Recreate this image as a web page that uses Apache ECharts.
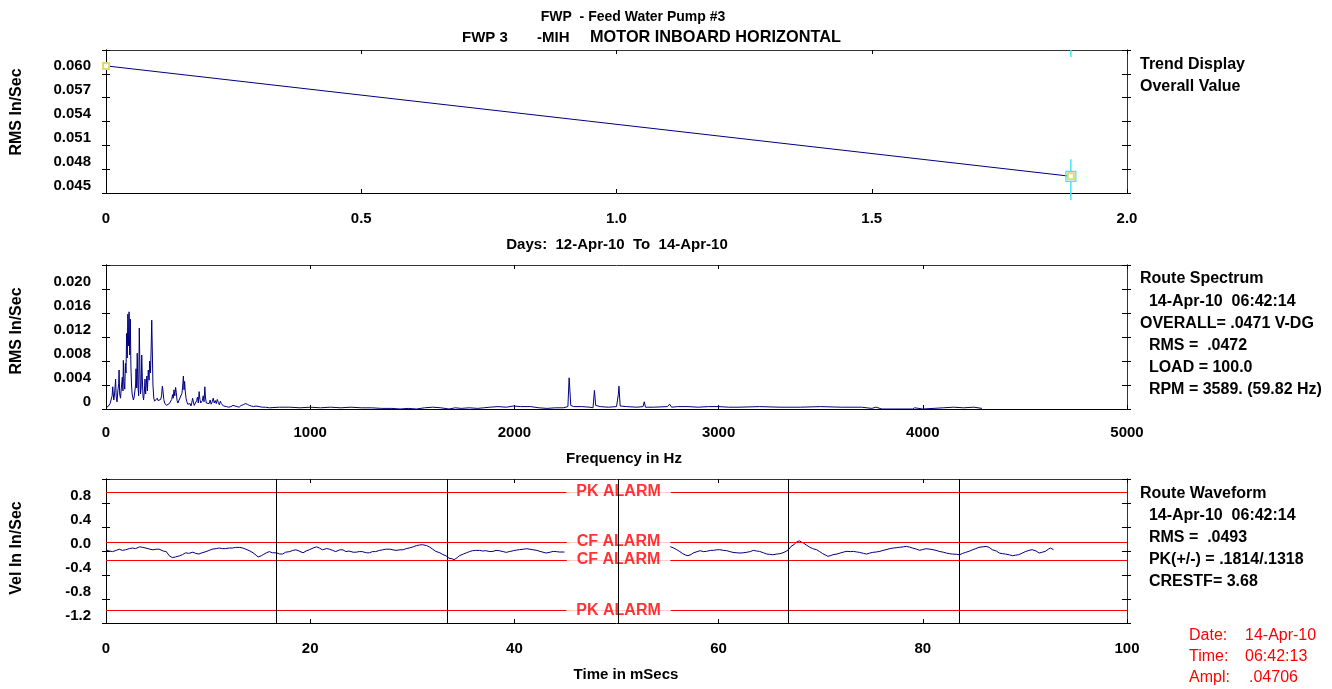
<!DOCTYPE html>
<html><head><meta charset="utf-8">
<script src="https://cdn.jsdelivr.net/npm/echarts@6/dist/echarts.min.js"></script>
<style>html,body{margin:0;padding:0;background:#fff}#c{width:1332px;height:689px}</style>
</head><body><div id="c"></div><script>
// ---------- DATA ----------
const trendDays = [0, 1.89];
const trendValues = [0.0610, 0.0471];
const trendXTicks = ['0', '0.5', '1.0', '1.5', '2.0'];
const trendYTicks = ['0.045', '0.048', '0.051', '0.054', '0.057', '0.060', ''];

const specFreq = [0,5,10,15,20,25,30,33,38,42,47,50,54,58,62,64,67,71,75,80,83,85,88,92,95,98,101,104,107,110,113,116,119,122,125,128,131,134,138,142,145,147,150,153,156,160,163,166,169,172,175,178,181,184,188,191,194,197,200,203,207,211,214,218,221,224,227,230,234,238,242,247,251,255,260,264,268,272,276,279,283,287,291,296,300,305,310,314,318,322,326,329,333,337,341,344,348,352,356,360,364,368,372,376,379,382,385,388,392,396,400,404,408,412,416,420,424,428,432,436,440,444,448,452,456,460,464,468,472,476,480,484,487,491,495,500,505,510,515,520,525,530,535,540,545,550,555,560,565,570,575,580,590,600,612,622,632,642,652,662,672,682,692,702,712,722,735,750,765,780,800,850,900,950,1000,1050,1100,1150,1200,1250,1300,1350,1400,1440,1480,1520,1560,1600,1640,1680,1710,1740,1780,1820,1850,1880,1920,1960,1995,2030,2080,2120,2160,2200,2240,2262,2268,2272,2276,2290,2330,2370,2385,2392,2398,2420,2460,2500,2509,2512,2518,2550,2600,2630,2636,2642,2680,2750,2760,2770,2800,2850,2900,2950,3000,3050,3100,3200,3300,3400,3500,3600,3700,3750,3770,3800,3950,3960,4000,4100,4150,4200,4250,4290];
const specAmp = [.0003,.0006,.0004,.0007,.0009,.0012,.0022,.0037,.0015,.0025,.0050,.0020,.0012,.0030,.0042,.0065,.0025,.0018,.0035,.0053,.0030,.0081,.0045,.0033,.0076,.0060,.0126,.0085,.0158,.0105,.0162,.0090,.0150,.0070,.0040,.0025,.0026,.0015,.0020,.0018,.0040,.0067,.0035,.0093,.0040,.0022,.0135,.0070,.0025,.0035,.0090,.0050,.0022,.0015,.0030,.0050,.0025,.0040,.0055,.0030,.0065,.0048,.0080,.0060,.0100,.0148,.0095,.0040,.0018,.0013,.0016,.0012,.0018,.0014,.0013,.0011,.0016,.0022,.0038,.0030,.0016,.0010,.0008,.0006,.0007,.0005,.0009,.0012,.0010,.0016,.0024,.0018,.0032,.0022,.0036,.0028,.0014,.0010,.0007,.0012,.0020,.0018,.0026,.0040,.0055,.0032,.0046,.0030,.0018,.0012,.0008,.0010,.0006,.0009,.0005,.0010,.0018,.0012,.0006,.0004,.0008,.0014,.0020,.0010,.0029,.0016,.0010,.0008,.0014,.0022,.0012,.0037,.0020,.0010,.0007,.0011,.0009,.0015,.0008,.0012,.0018,.0010,.0014,.0009,.0016,.0011,.0007,.0013,.0009,.0006,.0005,.0006,.0004,.0003,.0004,.0006,.0005,.0004,.0003,.0006,.0007,.0009,.0008,.0006,.0005,.0004,.0005,.0004,.0003,.0003,.0002,.0003,.0003,.0002,.0003,.0002,.0003,.0002,.0003,.0002,.0002,.0001,.0001,.0000,.0001,.0000,.0002,.0003,.0002,.0000,.0002,.0001,.0002,.0001,.0002,.0003,.0004,.0003,.0005,.0004,.0004,.0002,.0001,.0002,.0002,.0004,.0052,.0030,.0006,.0004,.0004,.0003,.0002,.0031,.0006,.0004,.0003,.0004,.0024,.0038,.0005,.0004,.0003,.0004,.0012,.0003,.0003,.0004,.0008,.0003,.0004,.0004,.0003,.0004,.0004,.0003,.0003,.0004,.0003,.0003,.0004,.0003,.0003,.0001,.0003,.0000,.0000,.0002,.0000,.0002,.0003,.0002,.0003,.0001];
const specXTicks = ['0', '1000', '2000', '3000', '4000', '5000'];
const specYTicks = ['0', '0.004', '0.008', '0.012', '0.016', '0.020', ''];

const waveTime = [0.0,0.3,0.65,1.0,1.3,1.6,1.9,2.3,2.6,2.9,3.3,3.6,3.9,4.3,4.6,4.9,5.2,5.6,5.9,6.2,6.5,6.8,7.2,7.5,7.8,8.1,8.5,8.8,9.1,9.4,9.8,10.1,10.4,10.8,11.1,11.4,11.7,12.1,12.4,12.7,13.1,13.4,13.7,14.1,14.4,14.7,14.9,15.2,15.4,15.7,16.0,16.3,16.7,17.0,17.3,17.6,18.0,18.3,18.6,18.9,19.3,19.6,19.9,20.3,20.6,20.9,21.2,21.6,21.9,22.2,22.5,22.9,23.2,23.5,23.8,24.2,24.5,24.8,25.1,25.5,25.8,26.1,26.4,26.8,27.1,27.4,27.8,28.1,28.4,28.8,29.1,29.4,29.7,30.1,30.4,30.7,31.0,31.4,31.7,32.0,32.3,32.7,33.0,33.3,33.6,33.9,34.1,34.4,34.6,35.0,35.3,35.6,35.9,36.2,36.6,36.9,37.2,37.6,37.9,38.2,38.5,38.9,39.2,39.5,39.9,40.2,40.5,40.9,41.2,41.5,41.8,42.2,42.5,42.8,43.1,43.5,43.8,44.1,44.4,44.9,50,55.2,55.6,55.9,56.2,56.5,56.8,57.0,57.3,57.5,57.9,58.2,58.5,58.8,59.2,59.5,59.8,60.1,60.5,60.8,61.1,61.4,61.8,62.1,62.4,62.7,63.1,63.4,63.7,64.0,64.4,64.7,65.0,65.3,65.7,66.0,66.3,66.6,66.9,67.1,67.4,67.6,67.9,68.1,68.3,68.6,68.9,69.2,69.6,69.9,70.2,70.5,70.7,71.0,71.2,71.6,71.9,72.2,72.5,72.9,73.2,73.5,73.8,74.2,74.5,74.8,75.1,75.5,75.8,76.1,76.4,76.8,77.1,77.4,77.7,78.1,78.4,78.7,79.0,79.4,79.7,80.0,80.3,80.7,81.0,81.3,81.6,82.0,82.3,82.6,82.9,83.3,83.6,83.9,84.2,84.6,84.9,85.2,85.5,85.9,86.2,86.5,86.8,87.2,87.5,87.8,88.1,88.5,88.8,89.1,89.4,89.8,90.1,90.4,90.7,91.1,91.4,91.7,92.0,92.3,92.5,92.8];
const waveVel = [0.02,0.00,-0.01,0.01,0.03,0.01,0.02,0.04,0.05,0.04,0.07,0.06,0.05,0.03,0.02,0.03,0.03,0.00,-0.01,-0.08,-0.11,-0.10,-0.08,-0.06,-0.03,-0.04,-0.02,-0.04,-0.05,-0.03,-0.01,0.01,0.03,0.04,0.05,0.04,0.04,0.05,0.05,0.06,0.06,0.05,0.03,0.00,-0.03,-0.07,-0.10,-0.08,-0.06,-0.03,-0.01,-0.03,-0.03,-0.05,-0.05,-0.02,-0.01,0.01,0.02,0.00,-0.03,0.00,0.02,0.05,0.07,0.05,0.02,0.04,0.03,0.01,-0.01,0.02,0.02,-0.01,0.00,-0.02,-0.02,-0.01,-0.01,-0.03,-0.03,-0.01,-0.01,0.01,0.02,0.03,0.03,0.02,0.01,0.02,0.02,0.04,0.05,0.07,0.09,0.10,0.105,0.09,0.066,0.03,-0.006,-0.03,-0.06,-0.08,-0.12,-0.13,-0.145,-0.11,-0.08,-0.05,-0.03,-0.01,0.005,0.01,0.01,0.00,0.005,-0.01,-0.006,0.01,0.005,-0.01,-0.023,-0.01,0.005,0.015,0.022,0.03,0.038,0.03,0.022,0.01,-0.006,-0.02,-0.034,-0.02,-0.006,-0.01,-0.017,-0.017,null,0.077,0.05,0.022,-0.01,-0.045,-0.07,-0.078,-0.06,-0.034,-0.01,0.005,-0.01,-0.006,0.01,0.011,0.02,0.022,0.01,0.005,-0.01,-0.023,-0.03,-0.034,-0.03,-0.023,-0.01,0.011,0.0,-0.006,-0.03,-0.051,-0.055,-0.062,-0.05,-0.045,-0.03,-0.006,0.03,0.077,0.11,0.144,0.17,0.15,0.133,0.1,0.066,0.04,0.022,-0.01,-0.045,-0.07,-0.089,-0.075,-0.062,-0.05,-0.034,-0.02,-0.006,-0.01,-0.006,-0.015,-0.023,-0.04,-0.051,-0.035,-0.023,-0.015,-0.006,0.01,0.022,0.04,0.049,0.055,0.061,0.07,0.077,0.065,0.049,0.03,0.011,0.025,0.038,0.03,0.022,0.01,-0.006,-0.02,-0.034,-0.045,-0.051,-0.055,-0.062,-0.04,-0.023,0.0,0.022,0.04,0.061,0.07,0.077,0.06,0.022,0.0,-0.034,-0.045,-0.051,-0.065,-0.078,-0.07,-0.062,-0.03,-0.006,0.01,0.022,0.0,-0.034,-0.02,-0.006,0.03,0.049,0.022];
const waveXTicks = ['0', '20', '40', '60', '80', '100'];
const waveYTicks = ['-1.2', '-0.8', '-0.4', '0.0', '0.4', '0.8', ''];
const alarmNames = ['PK ALARM', 'CF ALARM', 'CF ALARM', 'PK ALARM'];
const alarmLevels = [0.985, 0.15, -0.15, -0.985];
const alarmLabelTime = 50.2;
const cycleMarks = [16.72, 33.43, 50.15, 66.87, 83.59];

const titleLine1 = 'FWP  - Feed Water Pump #3';
const titleLine2Parts = ['FWP 3', '-MIH', 'MOTOR INBOARD HORIZONTAL'];
const trendInfo = ['Trend Display', 'Overall Value'];
const specInfo = ['Route Spectrum', '  14-Apr-10  06:42:14', 'OVERALL= .0471 V-DG', '  RMS =  .0472', '  LOAD = 100.0', '  RPM = 3589. (59.82 Hz)'];
const waveInfo = ['Route Waveform', '  14-Apr-10  06:42:14', '  RMS =  .0493', '  PK(+/-) = .1814/.1318', '  CRESTF= 3.68'];
const cursorLabels = ['Date:', 'Time:', 'Ampl:'];
const cursorValues = ['14-Apr-10', '06:42:13', '.04706'];

// ---------- LAYOUT / STYLE ----------
const FF = "'Liberation Sans', Arial, sans-serif";
const NAVY = '#000080';
const grids = [
  {left: 106, top: 50, width: 1021, height: 143},
  {left: 106, top: 265, width: 1021, height: 144},
  {left: 106, top: 479, width: 1021, height: 144}
];
const labelFont = {fontFamily: FF, fontWeight: 'bold', fontSize: 15, color: '#000'};

function xAxes(gi, min, max, interval, labels, margin) {
  return [
    {gridIndex: gi, type: 'value', position: 'bottom', min, max, interval,
     axisLine: {show: true, onZero: false, lineStyle: {color: '#000', width: 1}},
     axisTick: {show: true, inside: true, length: 4, lineStyle: {color: '#000'}},
     axisLabel: Object.assign({show: true, margin: margin,
       formatter: v => labels[Math.round((v - min) / interval)] ?? ''}, labelFont),
     splitLine: {show: false}},
    {gridIndex: gi, type: 'value', position: 'top', min, max, interval,
     axisLine: {show: true, onZero: false, lineStyle: {color: '#333', width: 1}},
     axisTick: {show: true, inside: true, length: 4, lineStyle: {color: '#000'}},
     axisLabel: {show: false}, splitLine: {show: false}}
  ];
}
function yAxes(gi, min, max, interval, labels) {
  const base = {gridIndex: gi, type: 'value', min, max, interval, splitLine: {show: false}};
  return [
    Object.assign({}, base, {position: 'left',
      axisLine: {show: true, onZero: false, lineStyle: {color: '#000'}},
      axisTick: {show: true, inside: false, length: 4, lineStyle: {color: '#000'}},
      axisLabel: Object.assign({show: true, margin: 15, verticalAlign: 'bottom', lineHeight: 15,
        formatter: v => labels[Math.round((v - min) / interval)] ?? ''}, labelFont)}),
    Object.assign({}, base, {position: 'left',
      axisLine: {show: true, onZero: false, lineStyle: {color: '#000'}},
      axisTick: {show: true, inside: true, length: 4, lineStyle: {color: '#000'}},
      axisLabel: {show: false}}),
    Object.assign({}, base, {position: 'right',
      axisLine: {show: true, onZero: false, lineStyle: {color: '#333'}},
      axisTick: {show: true, inside: true, length: 5, lineStyle: {color: '#000'}},
      axisLabel: {show: false}}),
    Object.assign({}, base, {position: 'right',
      axisLine: {show: true, onZero: false, lineStyle: {color: '#333'}},
      axisTick: {show: true, inside: false, length: 4, lineStyle: {color: '#000'}},
      axisLabel: {show: false}})
  ];
}

function txt(text, x, y, o) {
  o = o || {};
  const align = o.align || 'left';
  return {type: 'text', x, y, rotation: o.rot || 0, z: 100,
    style: {text, fill: o.color || '#000',
      font: (o.weight || 'bold') + ' ' + (o.size || 16) + 'px ' + FF,
      textAlign: align, align: align, textVerticalAlign: 'middle', verticalAlign: 'middle'}};
}

const graphics = [];
graphics.push(txt(titleLine1, 633, 17, {align: 'center', size: 14}));
graphics.push(txt(titleLine2Parts[0], 462, 38, {size: 15}));
graphics.push(txt(titleLine2Parts[1], 537, 38, {size: 15}));
graphics.push(txt(titleLine2Parts[2], 590, 38, {size: 16.3}));
graphics.push(txt('RMS In/Sec', 17, 112, {align: 'center', rot: Math.PI / 2}));
graphics.push(txt('RMS In/Sec', 17, 331, {align: 'center', rot: Math.PI / 2}));
graphics.push(txt('Vel In In/Sec', 17, 548, {align: 'center', rot: Math.PI / 2}));
graphics.push(txt('Days:  12-Apr-10  To  14-Apr-10', 617, 245, {align: 'center', size: 15}));
graphics.push(txt('Frequency in Hz', 624, 459, {align: 'center', size: 15}));
graphics.push(txt('Time in mSecs', 626, 675, {align: 'center', size: 15}));
trendInfo.forEach((t, i) => graphics.push(txt(t, 1140, 65 + i * 22)));
specInfo.forEach((t, i) => graphics.push(txt(t, 1140, 279 + i * 22.2)));
waveInfo.forEach((t, i) => graphics.push(txt(t, 1140, 494 + i * 21.8)));
cursorLabels.forEach((t, i) => graphics.push(txt(t, 1189, 635.5 + i * 21, {color: '#ff0000', weight: 'normal'})));
cursorValues.forEach((t, i) => graphics.push(txt(t, i === 2 ? 1249 : 1245, 635.5 + i * 21, {color: '#ff0000', weight: 'normal'})));

const trendData = trendDays.map((d, i) => [d, trendValues[i]]);
const specData = specFreq.map((f, i) => [f, specAmp[i]]);
const waveData = waveTime.map((t, i) => [t, waveVel[i]]);
const lastIdx = trendDays.length - 1;

const option = {
  backgroundColor: '#fff',
  animation: false,
  grid: grids.map(g => Object.assign({show: false, containLabel: false, outerBoundsMode: 'none'}, g)),
  xAxis: [].concat(
    xAxes(0, 0, 2, 0.5, trendXTicks, 18),
    xAxes(1, 0, 5000, 1000, specXTicks, 16),
    xAxes(2, 0, 100, 20, waveXTicks, 18)),
  yAxis: [].concat(
    yAxes(0, 0.045, 0.063, 0.003, trendYTicks),
    yAxes(1, 0, 0.024, 0.004, specYTicks),
    yAxes(2, -1.2, 1.2, 0.4, waveYTicks)),
  graphic: {elements: graphics},
  series: [
    {type: 'line', name: 'trend', xAxisIndex: 0, yAxisIndex: 0, data: trendData,
     symbol: 'emptyRect', symbolSize: 6, showSymbol: true,
     itemStyle: {color: '#e0d870', borderWidth: 1},
     lineStyle: {color: NAVY, width: 1}, z: 3},
    {type: 'custom', name: 'cursor', xAxisIndex: 0, yAxisIndex: 0, clip: false, z: 4,
     data: [[trendDays[lastIdx], trendValues[lastIdx]]],
     renderItem: function (params, api) {
       const p = api.coord([api.value(0), api.value(1)]);
       const cs = params.coordSys;
       const st = {stroke: '#40e8f0', lineWidth: 1.5, fill: null};
       return {type: 'group', children: [
         {type: 'line', shape: {x1: p[0], y1: cs.y, x2: p[0], y2: cs.y + 7}, style: st},
         {type: 'line', shape: {x1: p[0], y1: p[1] - 17, x2: p[0], y2: p[1] - 5}, style: st},
         {type: 'rect', shape: {x: p[0] - 5, y: p[1] - 5, width: 10, height: 10}, style: {stroke: '#40e8f0', lineWidth: 1.2, fill: null}},
         {type: 'line', shape: {x1: p[0], y1: p[1] + 5, x2: p[0], y2: cs.y + cs.height + 7}, style: st}
       ]};
     }},
    {type: 'line', name: 'spectrum', xAxisIndex: 2, yAxisIndex: 4, data: specData,
     showSymbol: false, symbol: 'none', lineStyle: {color: NAVY, width: 1}},
    {type: 'line', name: 'waveform', xAxisIndex: 4, yAxisIndex: 8, data: waveData,
     showSymbol: false, symbol: 'none', connectNulls: false, z: 2,
     lineStyle: {color: NAVY, width: 1},
     markLine: {silent: true, symbol: ['none', 'none'], z: 5, animation: false,
       label: {show: false},
       lineStyle: {color: '#ff0000', type: 'solid', width: 1},
       data: alarmLevels.map(v => ({yAxis: v}))}},
    {type: 'scatter', name: 'alarmLabels', xAxisIndex: 4, yAxisIndex: 8, z: 6,
     symbol: 'circle', symbolSize: 1, itemStyle: {color: 'rgba(0,0,0,0)'},
     data: alarmLevels.map(v => [alarmLabelTime, v]),
     label: {show: true, position: 'inside',
       formatter: p => alarmNames[p.dataIndex],
       color: '#ff0000', fontFamily: FF, fontWeight: 'bold', fontSize: 16,
       backgroundColor: '#fff', padding: [1, 10]},
     markLine: {silent: true, symbol: ['none', 'none'], z: 7, animation: false,
       label: {show: false},
       lineStyle: {color: '#000', type: 'solid', width: 1},
       data: cycleMarks.map(t => ({xAxis: t}))}}
  ]
};
const chart = echarts.init(document.getElementById('c'), null, {renderer: 'canvas'});
chart.setOption(option);
</script></body></html>
